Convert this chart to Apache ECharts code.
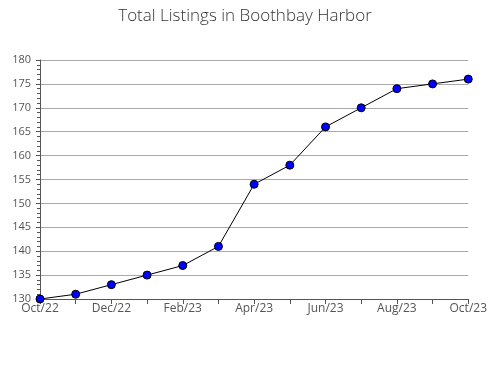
<!DOCTYPE html>
<html><head><meta charset="utf-8">
<script src="https://cdn.jsdelivr.net/npm/echarts@6/dist/echarts.min.js"></script>
<style>html,body{margin:0;padding:0;background:#fff}#c{width:490px;height:380px}</style>
</head><body><div id="c"></div>
<script>
const categories = ['Oct/22','Nov/22','Dec/22','Jan/23','Feb/23','Mar/23','Apr/23','May/23','Jun/23','Jul/23','Aug/23','Sep/23','Oct/23'];
const listings = [130,131,133,135,137,141,154,158,166,170,174,175,176];
const yTicks = {min:130, max:180, interval:5};
const title = 'Total Listings in Boothbay Harbor';

const chart = echarts.init(document.getElementById('c'), null, {renderer:'canvas'});
chart.setOption({
  animation:false,
  backgroundColor:'#fff',
  title:{text:title, left:'center', top:3, textStyle:{fontFamily:'Open Sans', fontWeight:300, fontSize:17, color:'#333'}},
  grid:{left:40, right:19, top:60, bottom:81},
  xAxis:{
    type:'category', data:categories, boundaryGap:false,
    axisLine:{lineStyle:{color:'#555', width:1}},
    axisTick:{show:true, length:5, interval:0, lineStyle:{color:'#555'}},
    axisLabel:{interval:1, fontFamily:'Open Sans', fontSize:12, color:'#555', margin:4},
    splitLine:{show:false}
  },
  yAxis:{
    type:'value', min:yTicks.min, max:yTicks.max, interval:yTicks.interval,
    axisLine:{show:true, lineStyle:{color:'#555'}},
    axisTick:{show:true, length:4, lineStyle:{color:'#555'}},
    minorTick:{show:true, splitNumber:5, length:3, lineStyle:{color:'#555'}},
    axisLabel:{fontFamily:'Open Sans', fontSize:11, color:'#555', margin:9},
    splitLine:{show:true, lineStyle:{color:'#aaa', width:1}}
  },
  series:[{
    type:'line', data:listings, symbol:'circle', symbolSize:8,
    lineStyle:{color:'#000', width:1},
    itemStyle:{color:'#0000ff', borderColor:'#000', borderWidth:1}
  }]
});
</script></body></html>
